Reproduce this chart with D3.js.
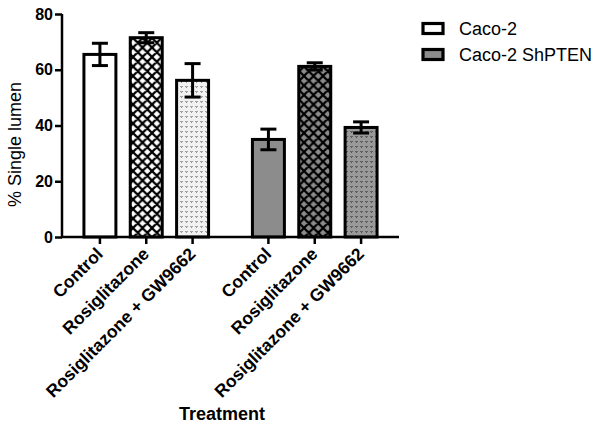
<!DOCTYPE html>
<html><head><meta charset="utf-8">
<script src="https://cdn.jsdelivr.net/npm/d3@7"></script>
<style>body{margin:0;background:#fff}svg{display:block}text{font-family:"Liberation Sans",Arial,sans-serif}</style>
</head><body>
<script>
const groups = ["Caco-2", "Caco-2 ShPTEN"];
const treatments = ["Control", "Rosiglitazone", "Rosiglitazone + GW9662"];
const caco2Values = [65.5, 71.5, 56.2];
const caco2Errors = [4, 1.8, 6];
const shptenValues = [35, 61.2, 39.3];
const shptenErrors = [3.7, 1.3, 2];
const yTicks = [0, 20, 40, 60, 80];

const W = 600, H = 426;
const svg = d3.select("body").append("svg").attr("width", W).attr("height", H);
const defs = svg.append("defs");
const grey = "#8c8c8c";

function cross(id, bg) {
  const p = defs.append("pattern").attr("id", id).attr("patternUnits", "userSpaceOnUse")
    .attr("width", 9.5).attr("height", 9.5);
  p.append("rect").attr("width", 9.5).attr("height", 9.5).attr("fill", bg);
  p.append("path").attr("d", "M0,0L9.5,9.5M9.5,0L0,9.5M-1,8.5L1,10.5M8.5,-1L10.5,1M-1,1L1,-1M8.5,10.5L10.5,8.5")
    .attr("stroke", "#000").attr("stroke-width", 2.2);
}
function dots(id, bg, fg) {
  const p = defs.append("pattern").attr("id", id).attr("patternUnits", "userSpaceOnUse")
    .attr("width", 5).attr("height", 5);
  p.append("rect").attr("width", 5).attr("height", 5).attr("fill", bg);
  p.append("path").attr("d", "M0.5,1L1.5,2.5L2.5,1").attr("stroke", fg).attr("stroke-width", 0.9).attr("fill", "none");
}
cross("cw", "#fff"); cross("cg", grey);
dots("dw", "#f2f2f2", "#666"); dots("dg", "#9a9a9a", "#333");
const fills = [["#fff", "url(#cw)", "url(#dw)"], [grey, "url(#cg)", "url(#dg)"]];

const x0 = d3.scaleBand().domain(groups).range([62, 399]).paddingInner(0.175).paddingOuter(0.0875);
const x1 = d3.scaleBand().domain(treatments).range([0, x0.bandwidth()]).paddingInner(0.31).paddingOuter(0.155);
const y = d3.scaleLinear().domain([0, 80]).range([237, 14]);

const data = [];
groups.forEach((g, gi) => treatments.forEach((t, ti) => {
  const v = gi === 0 ? caco2Values[ti] : shptenValues[ti];
  const e = gi === 0 ? caco2Errors[ti] : shptenErrors[ti];
  data.push({g, gi, t, ti, v, e});
}));

const bars = svg.append("g");
bars.selectAll("rect").data(data).join("rect")
  .attr("x", d => x0(d.g) + x1(d.t))
  .attr("width", x1.bandwidth())
  .attr("y", d => y(d.v))
  .attr("height", d => y(0) - y(d.v))
  .attr("fill", d => fills[d.gi][d.ti])
  .attr("stroke", "#000").attr("stroke-width", 3);

const eb = svg.append("g").attr("stroke", "#000").attr("stroke-width", 3);
data.forEach(d => {
  const cx = x0(d.g) + x1(d.t) + x1.bandwidth() / 2;
  eb.append("line").attr("x1", cx).attr("x2", cx).attr("y1", y(d.v - d.e)).attr("y2", y(d.v + d.e));
  [d.v - d.e, d.v + d.e].forEach(val =>
    eb.append("line").attr("x1", cx - 8).attr("x2", cx + 8).attr("y1", y(val)).attr("y2", y(val)));
});

// y axis
const yAxis = svg.append("g").attr("transform", "translate(62,0)")
  .call(d3.axisLeft(y).tickValues(yTicks).tickSize(7).tickPadding(2));
yAxis.select(".domain").attr("stroke-width", 2.5).attr("d", `M0,${y(80)}V${y(0)}`);
yAxis.selectAll(".tick line").attr("stroke-width", 2.5);
yAxis.selectAll(".tick text").attr("font-size", 16).attr("font-weight", "bold").attr("fill", "#000")
  .attr("font-family", "Liberation Sans, Arial, sans-serif");

// x axis
const xAxisG = svg.append("g").attr("transform", `translate(0,${y(0)})`);
xAxisG.append("line").attr("x1", 61).attr("x2", 399).attr("y1", 0).attr("y2", 0)
  .attr("stroke", "#000").attr("stroke-width", 2.5);
data.forEach(d => {
  const cx = x0(d.g) + x1(d.t) + x1.bandwidth() / 2;
  xAxisG.append("line").attr("x1", cx).attr("x2", cx).attr("y1", 0).attr("y2", 7)
    .attr("stroke", "#000").attr("stroke-width", 2.5);
  xAxisG.append("text").text(d.t)
    .attr("transform", `translate(${cx + 4},${18}) rotate(-45)`)
    .attr("text-anchor", "end").attr("font-size", 17.5).attr("font-weight", "bold").attr("fill", "#000");
});

svg.append("text").text("Treatment").attr("x", 222).attr("y", 420)
  .attr("text-anchor", "middle").attr("font-size", 18).attr("font-weight", "bold");
svg.append("text").text("% Single lumen")
  .attr("transform", `translate(21,${(y(0) + y(80)) / 2 + 19}) rotate(-90)`)
  .attr("text-anchor", "middle").attr("font-size", 18);

// legend
const leg = svg.append("g");
groups.forEach((g, i) => {
  const yy = 23.5 + i * 26;
  leg.append("rect").attr("x", 423).attr("y", yy).attr("width", 20).attr("height", 10)
    .attr("fill", i === 0 ? "#fff" : grey).attr("stroke", "#000").attr("stroke-width", 3.2);
  leg.append("text").text(g).attr("x", 459).attr("y", yy + 11.5).attr("font-size", 18);
});
</script>
</body></html>
